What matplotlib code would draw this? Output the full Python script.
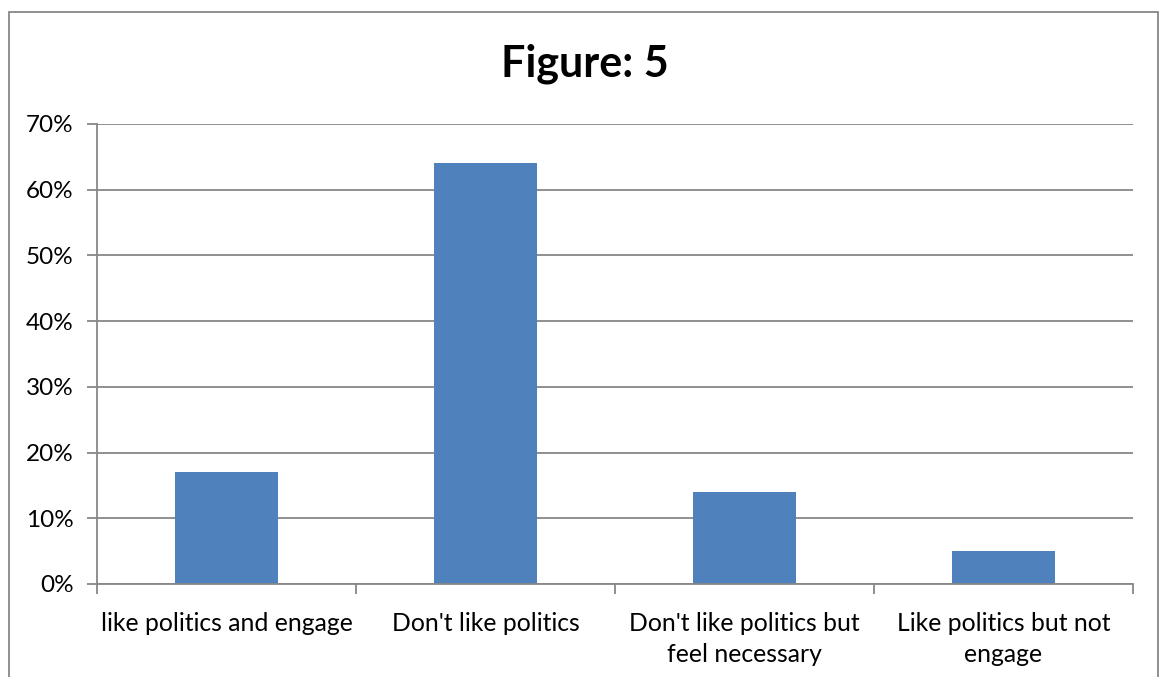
import matplotlib.pyplot as plt
from matplotlib.patches import Rectangle
from matplotlib.ticker import FixedLocator, PercentFormatter

categories = ['like politics and engage', "Don't like politics",
              "Don't like politics but\nfeel necessary", 'Like politics but not\nengage']
shares = [17, 64, 14, 5]
y_ticks = [0, 10, 20, 30, 40, 50, 60, 70]

plt.rcParams['font.family'] = ['Lato', 'DejaVu Sans']

grey = '#878787'
bar_blue = '#4F81BD'

fig = plt.figure(figsize=(11.63, 6.77), dpi=100)
ax = fig.add_axes([97 / 1163, 1 - 584 / 677, (1133 - 97) / 1163, (584 - 124) / 677])

# chart frame, runs off the bottom of the canvas
fig.patches.append(Rectangle((9 / 1163, -0.1), (1158 - 9) / 1163, 1.1 - 12 / 677,
                             transform=fig.transFigure, fill=False,
                             edgecolor=grey, linewidth=1.3))

x = range(len(categories))
ax.bar(x, shares, width=0.4, color=bar_blue, zorder=3)

ax.set_xlim(-0.5, len(categories) - 0.5)
ax.set_ylim(0, 70)
ax.set_yticks(y_ticks)
ax.yaxis.set_major_formatter(PercentFormatter(decimals=0))
ax.yaxis.grid(True, color=grey, linewidth=1.3, zorder=0)

ax.set_xticks(list(x))
ax.set_xticklabels(categories, fontsize=17.8, linespacing=1.45)
ax.xaxis.set_minor_locator(FixedLocator([i - 0.5 for i in range(len(categories) + 1)]))
ax.tick_params(axis='x', which='major', length=0, pad=20)
ax.tick_params(axis='x', which='minor', length=7, width=1.3, color=grey, direction='out')
ax.tick_params(axis='y', labelsize=17.5, length=7, width=1.3, color=grey, pad=10)

for side in ['top', 'right']:
    ax.spines[side].set_visible(False)
for side in ['left', 'bottom']:
    ax.spines[side].set_color(grey)
    ax.spines[side].set_linewidth(1.3)
    ax.spines[side].set_zorder(4)

fig.text(585 / 1163, 1 - 64 / 677, 'Figure: 5', fontsize=31, fontweight='bold',
         ha='center', va='center')

fig.savefig('out.png', dpi=100, facecolor='white')
